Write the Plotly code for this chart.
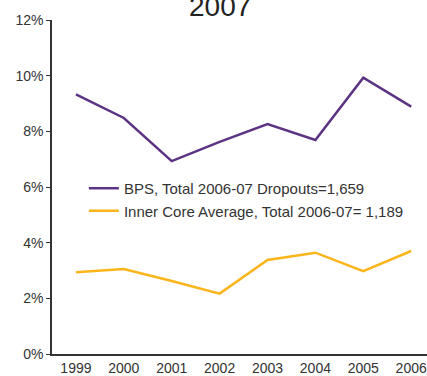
import plotly.graph_objects as go

# Jaren en uitvalpercentages
years = ["1999", "2000", "2001", "2002", "2003", "2004", "2005", "2006"]
bps = [9.33, 8.48, 6.93, 7.62, 8.26, 7.69, 9.93, 8.89]
inner_core = [2.94, 3.05, 2.62, 2.17, 3.38, 3.64, 2.98, 3.70]

bps_name = "BPS, Total 2006-07 Dropouts=1,659"
core_name = "Inner Core Average, Total 2006-07= 1,189"

fig = go.Figure()
fig.add_trace(go.Scatter(x=years, y=bps, mode="lines", name=bps_name,
                         line=dict(color="#5c3382", width=2.5)))
fig.add_trace(go.Scatter(x=years, y=inner_core, mode="lines", name=core_name,
                         line=dict(color="#fbb41a", width=2.5)))

fig.update_layout(
    width=427, height=376,
    margin=dict(l=52, r=0, t=20, b=22),
    plot_bgcolor="white", paper_bgcolor="white",
    font=dict(family="Liberation Sans, Arial", size=14, color="#333"),
    legend=dict(x=0.085, y=0.545, xanchor="left", yanchor="top",
                bgcolor="rgba(0,0,0,0)", font=dict(size=15, color="#333")),
    annotations=[dict(text="2007", x=0.448, xref="paper", y=1.0, yref="paper",
                      yshift=-4, yanchor="bottom", showarrow=False,
                      font=dict(size=28, color="#222"))],
)

fig.update_xaxes(type="category", range=[-0.5, 7.33], showline=True,
                 linecolor="#333", linewidth=1.5, ticks="", showgrid=False,
                 tickfont=dict(size=14, color="#333"))
fig.update_yaxes(range=[0, 12], dtick=2, ticksuffix="%", showline=True,
                 linecolor="#333", linewidth=1.5, ticks="outside", ticklen=4,
                 tickcolor="#333", showgrid=False, zeroline=False,
                 tickfont=dict(size=14, color="#333"))

# standaard body-marge van de browser weghalen
fig.write_html("out.html", config={"displayModeBar": False},
               post_script="document.body.style.margin='0';")
